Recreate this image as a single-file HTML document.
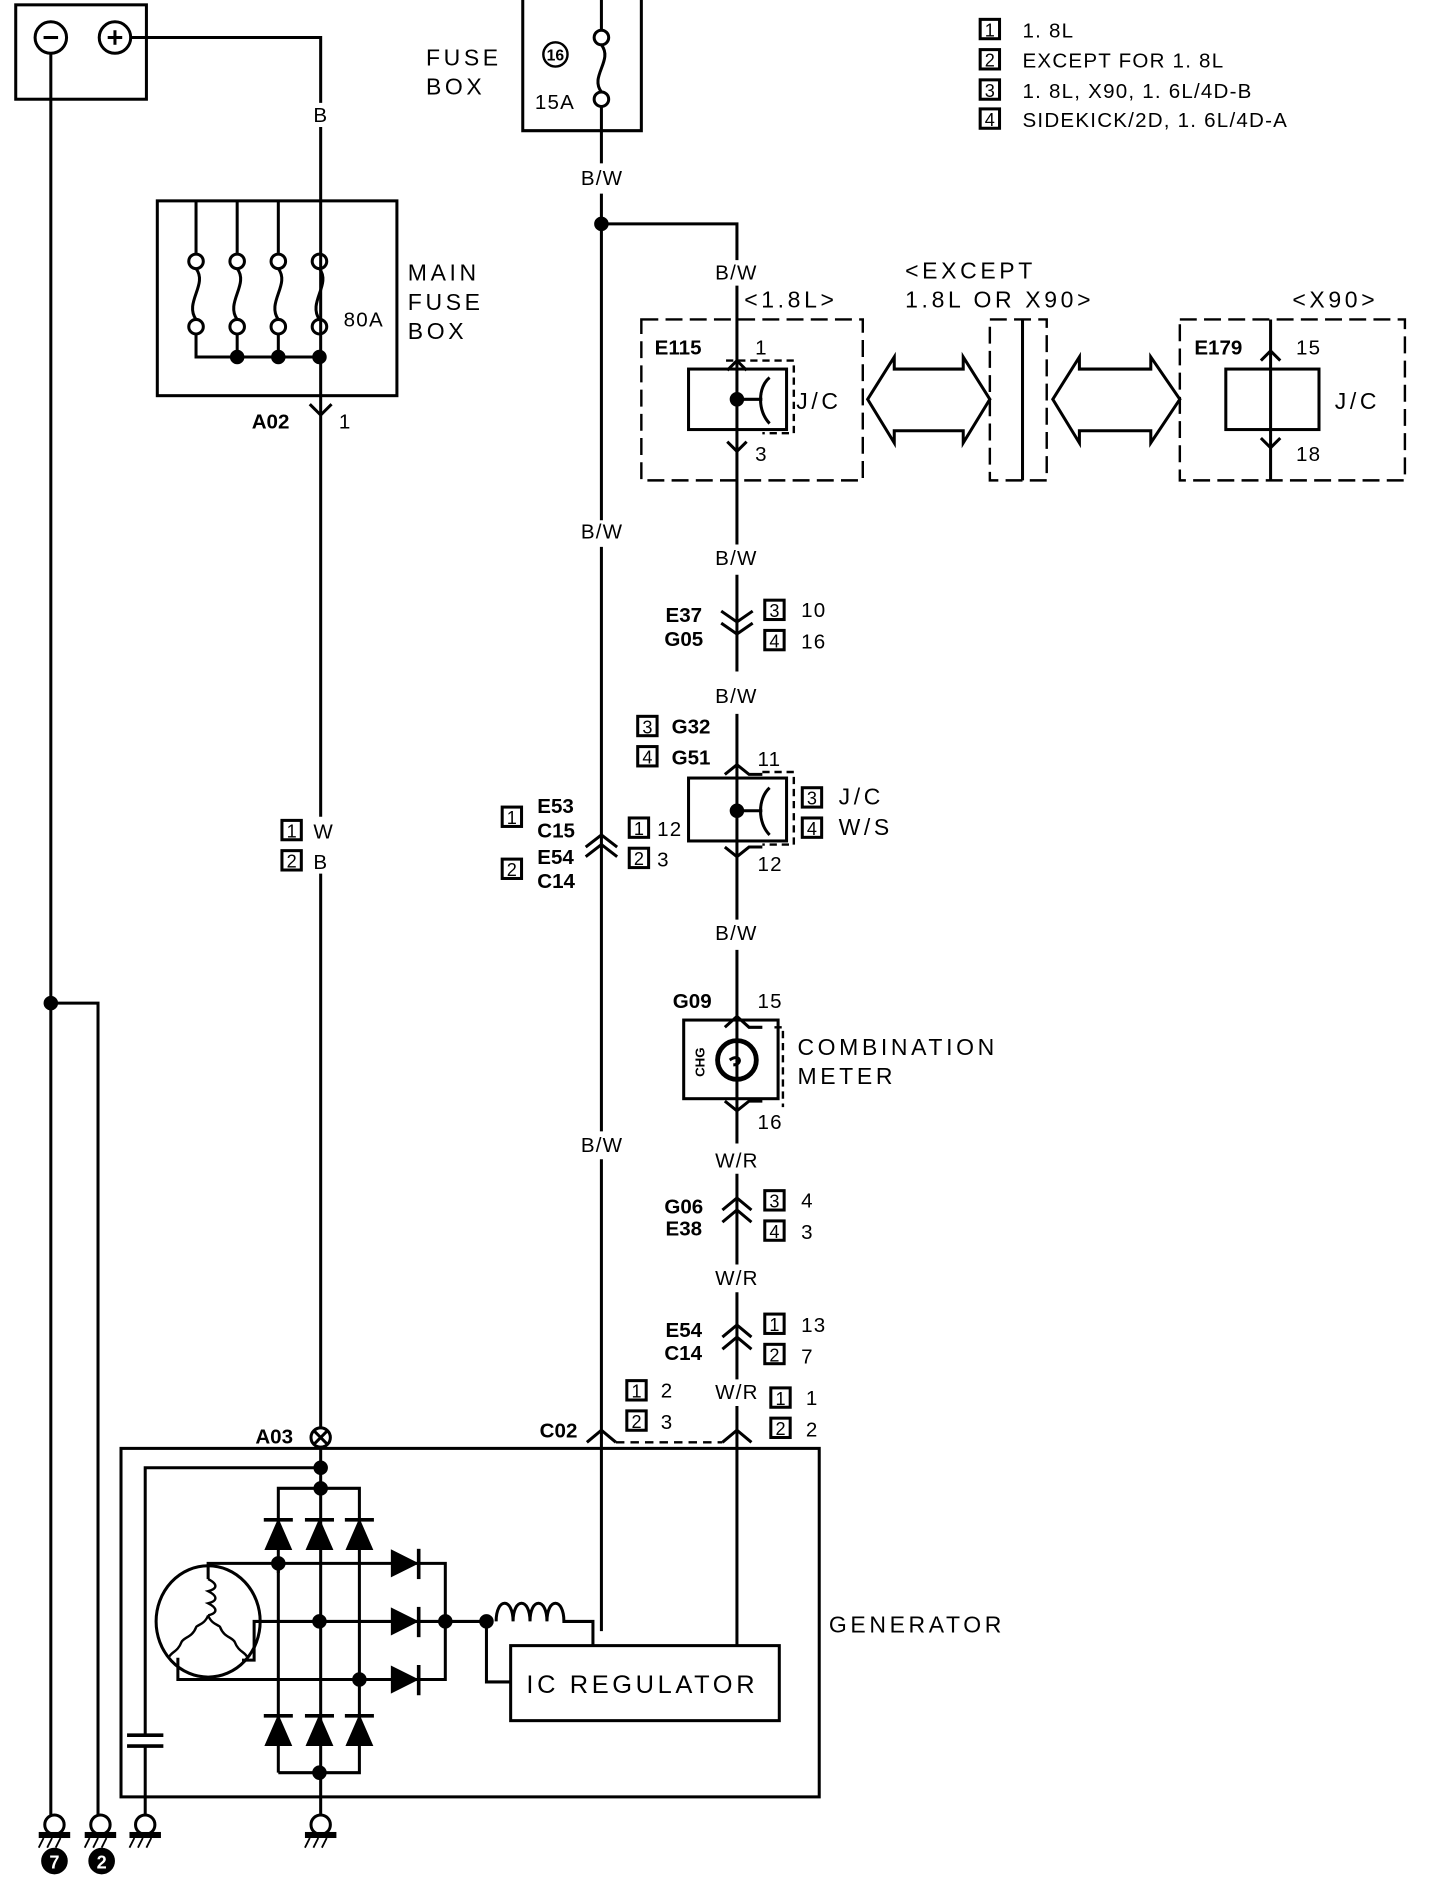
<!DOCTYPE html>
<html><head><meta charset="utf-8"><style>
html,body{margin:0;padding:0;background:#fff;width:1440px;height:1884px;overflow:hidden}
svg{display:block}
text{font-family:"Liberation Sans",sans-serif;fill:#000}
.t{font-size:19px;letter-spacing:3px}
.s{font-size:17px;letter-spacing:1px}
.b{font-size:17px;font-weight:bold}
</style></head><body>
<svg width="1440" height="1884" viewBox="0 0 1190 1557" preserveAspectRatio="none" xmlns="http://www.w3.org/2000/svg">
<g fill="none" stroke="#000" stroke-width="2.5">
<!-- battery -->
<rect x="13" y="4" width="108" height="78"/>
<circle cx="42" cy="31" r="13"/><line x1="36" y1="31" x2="48" y2="31"/>
<circle cx="95" cy="31" r="13"/><line x1="89" y1="31" x2="101" y2="31"/><line x1="95" y1="25" x2="95" y2="37"/>
<polyline points="108,31 265,31 265,85"/>
<line x1="265" y1="105" x2="265" y2="675"/>
<line x1="265" y1="722" x2="265" y2="1180"/>
<line x1="42" y1="44" x2="42" y2="1500"/>
<polyline points="42,829 81,829 81,1500"/>
<!-- main fuse box -->
<rect x="130" y="166" width="198" height="161"/>
<g>
<line x1="162" y1="166" x2="162" y2="209"/><line x1="196" y1="166" x2="196" y2="209"/><line x1="230" y1="166" x2="230" y2="209"/>
<circle cx="162" cy="216" r="6"/><circle cx="196" cy="216" r="6"/><circle cx="230" cy="216" r="6"/><circle cx="264" cy="216" r="6"/>
<circle cx="162" cy="270" r="6"/><circle cx="196" cy="270" r="6"/><circle cx="230" cy="270" r="6"/><circle cx="264" cy="270" r="6"/>
<path d="M162,222 C172,235 152,250 162,264"/><path d="M196,222 C206,235 186,250 196,264"/><path d="M230,222 C240,235 220,250 230,264"/><path d="M264,222 C274,235 254,250 264,264"/>
<polyline points="162,276 162,295 264,295"/><line x1="196" y1="276" x2="196" y2="295"/><line x1="230" y1="276" x2="230" y2="295"/>
</g>
<polyline points="256,334 265,343 274,334"/>
<!-- fuse box top -->
<polyline points="432,0 432,108 530,108 530,0"/>
<line x1="497" y1="0" x2="497" y2="25"/>
<circle cx="497" cy="31" r="6"/><circle cx="497" cy="82" r="6"/>
<path d="M497,37 C507,50 487,63 497,76"/>
<circle cx="459" cy="45" r="10" stroke-width="2"/>
<line x1="497" y1="88" x2="497" y2="135"/>
<line x1="497" y1="160" x2="497" y2="430"/>
<line x1="497" y1="452" x2="497" y2="935"/>
<line x1="497" y1="958" x2="497" y2="1348"/>
<polyline points="497,185 609,185 609,215"/>
<line x1="609" y1="236" x2="609" y2="450"/>
<!-- E115 -->
<rect x="530" y="264" width="183" height="133" stroke-dasharray="14,6" stroke-width="2"/>
<rect x="569" y="305" width="81" height="50"/>
<polyline points="600,298 656,298 656,358 630,358" stroke-dasharray="6,4" stroke-width="2"/>
<polyline points="601,306 609,298 617,306"/>
<polyline points="601,365 609,373 617,365"/>
<polyline points="609,330 630,330"/><path d="M636,312 C626,320 626,340 636,350"/>
<!-- double arrows -->
<polygon points="717,330 739,295 739,305 796,305 796,295 818,330 796,366 796,356 739,356 739,366"/>
<rect x="818" y="264" width="47" height="133" stroke-dasharray="14,6" stroke-width="2"/>
<line x1="845" y1="264" x2="845" y2="397"/>
<polygon points="870,330 892,295 892,305 951,305 951,295 975,330 951,366 951,356 892,356 892,366"/>
<!-- E179 -->
<rect x="975" y="264" width="186" height="133" stroke-dasharray="14,6" stroke-width="2"/>
<rect x="1013" y="305" width="77" height="50"/>
<line x1="1050" y1="264" x2="1050" y2="397"/>
<polyline points="1042,298 1050,290 1058,298"/>
<polyline points="1042,362 1050,370 1058,362"/>
<!-- E37 -->
<line x1="609" y1="475" x2="609" y2="555"/>
<polyline points="596,505 609,514 622,505"/><polyline points="596,515 609,524 622,515"/>
<line x1="609" y1="590" x2="609" y2="760"/>
<!-- G32 -->
<polyline points="599,640 609,632 619,640 630,640" /><polyline points="630,638 656,638 656,698 630,698" stroke-dasharray="6,4" stroke-width="2"/>
<rect x="569" y="643" width="81" height="52"/>
<line x1="609" y1="670" x2="630" y2="670"/><path d="M636,651 C626,660 626,680 636,690"/>
<polyline points="599,700 609,708 619,700 630,700"/>
<!-- left connector -->
<polyline points="484,700 497,690 510,700"/><polyline points="484,708 497,698 510,708"/>
<!-- meter -->
<line x1="609" y1="785" x2="609" y2="945"/>
<polyline points="599,849 609,840 619,849 630,849"/>
<polyline points="640,849 647,849 647,915" stroke-dasharray="6,4" stroke-width="2"/>
<rect x="565" y="843" width="78" height="65"/>
<circle cx="609" cy="876" r="16" stroke-width="4"/>
<path d="M603,876 C612,870 614,880 606,880"/>
<polyline points="599,910 609,918 619,910 630,910"/>
<line x1="609" y1="970" x2="609" y2="1045"/>
<polyline points="597,1000 609,990 621,1000"/><polyline points="597,1010 609,1000 621,1010"/>
<line x1="609" y1="1068" x2="609" y2="1140"/>
<polyline points="597,1105 609,1095 621,1105"/><polyline points="597,1115 609,1105 621,1115"/>
<line x1="609" y1="1162" x2="609" y2="1360"/>
<!-- C02 connectors -->
<polyline points="485,1192 497,1182 509,1192"/>
<polyline points="597,1192 609,1182 621,1192"/>
<path d="M509,1192 L520,1192 L585,1192 L597,1192" stroke-dasharray="7,5" stroke-width="2"/>
<!-- A03 -->
<circle cx="265" cy="1188" r="8"/><line x1="259" y1="1182" x2="271" y2="1194"/><line x1="271" y1="1182" x2="259" y2="1194"/>
<!-- generator -->
<rect x="100" y="1197" width="577" height="288"/>
<polyline points="120,1434 120,1213 265,1213"/>
<line x1="265" y1="1196" x2="265" y2="1500"/>
<line x1="105" y1="1434" x2="135" y2="1434" stroke-width="3"/><line x1="105" y1="1443" x2="135" y2="1443" stroke-width="3"/>
<line x1="120" y1="1443" x2="120" y2="1500"/>
<polyline points="230,1300 230,1230 297,1230 297,1400"/>
<line x1="230" y1="1290" x2="230" y2="1465"/>
<polyline points="230,1465 297,1465 297,1400"/>
<polyline points="172,1305 172,1292 368,1292 368,1388 147,1388 147,1370"/>
<polyline points="200,1372 210,1372 210,1340 368,1340"/>
<line x1="368" y1="1340" x2="402" y2="1340"/>
<ellipse cx="172" cy="1340" rx="43" ry="46"/>
<path d="M172,1305 c8,4 8,8 0,10 c8,4 8,8 0,10 c8,4 8,8 0,10" stroke-width="2"/>
<path d="M172,1335 c-3,8 -10,8 -10,10 c-3,8 -10,8 -12,12 c-3,8 -8,8 -10,12" stroke-width="2"/>
<path d="M172,1335 c3,8 10,8 10,10 c3,8 10,8 12,12 c3,8 8,8 10,12" stroke-width="2"/>
<path d="M410,1340 c0,-20 14,-20 14,0 c0,-20 14,-20 14,0 c0,-20 14,-20 14,0 c0,-20 14,-20 14,0 L490,1340 L490,1360" stroke-width="2.5"/>
<polyline points="402,1340 402,1390 422,1390"/>
<rect x="422" y="1360" width="222" height="62"/>
<!-- grounds -->
<circle cx="45" cy="1508" r="8"/><circle cx="83" cy="1508" r="8"/><circle cx="120" cy="1508" r="8"/><circle cx="265" cy="1508" r="8"/>
</g>
<g fill="#000" stroke="#000" stroke-width="2">
<circle cx="196" cy="295" r="5"/><circle cx="230" cy="295" r="5"/><circle cx="264" cy="295" r="5"/>
<circle cx="497" cy="185" r="5"/><circle cx="609" cy="330" r="5"/><circle cx="609" cy="670" r="5"/>
<circle cx="42" cy="829" r="5"/>
<circle cx="265" cy="1213" r="5"/><circle cx="265" cy="1230" r="5"/><circle cx="230" cy="1292" r="5"/><circle cx="264" cy="1340" r="5"/><circle cx="297" cy="1388" r="5"/><circle cx="264" cy="1465" r="5"/><circle cx="368" cy="1340" r="5"/><circle cx="402" cy="1340" r="5"/>
<polygon points="220,1280 240,1280 230,1257"/><line x1="218" y1="1256" x2="242" y2="1256" stroke-width="3"/>
<polygon points="254,1280 274,1280 264,1257"/><line x1="252" y1="1256" x2="276" y2="1256" stroke-width="3"/>
<polygon points="287,1280 307,1280 297,1257"/><line x1="285" y1="1256" x2="309" y2="1256" stroke-width="3"/>
<polygon points="220,1442 240,1442 230,1419"/><line x1="218" y1="1418" x2="242" y2="1418" stroke-width="3"/>
<polygon points="254,1442 274,1442 264,1419"/><line x1="252" y1="1418" x2="276" y2="1418" stroke-width="3"/>
<polygon points="287,1442 307,1442 297,1419"/><line x1="285" y1="1418" x2="309" y2="1418" stroke-width="3"/>
<polygon points="324,1282 344,1292 324,1302"/><line x1="346" y1="1280" x2="346" y2="1305" stroke-width="3"/>
<polygon points="324,1330 344,1340 324,1350"/><line x1="346" y1="1328" x2="346" y2="1353" stroke-width="3"/>
<polygon points="324,1378 344,1388 324,1398"/><line x1="346" y1="1376" x2="346" y2="1401" stroke-width="3"/>
<rect x="33" y="1515" width="24" height="3"/><rect x="71" y="1515" width="24" height="3"/><rect x="108" y="1515" width="24" height="3"/><rect x="253" y="1515" width="24" height="3"/>
<circle cx="45" cy="1538" r="10"/><circle cx="84" cy="1538" r="10"/>
</g>
<g stroke="#000" stroke-width="1.5">
<path d="M36,1519 l-4,8 M43,1519 l-4,8 M50,1519 l-4,8 M74,1519 l-4,8 M81,1519 l-4,8 M88,1519 l-4,8 M111,1519 l-4,8 M118,1519 l-4,8 M125,1519 l-4,8 M256,1519 l-4,8 M263,1519 l-4,8 M270,1519 l-4,8"/>
</g>
<text x="45" y="1544" text-anchor="middle" style="fill:#fff;font-size:15px;font-weight:bold">7</text>
<text x="84" y="1544" text-anchor="middle" style="fill:#fff;font-size:15px;font-weight:bold">2</text>
<text x="459" y="50" text-anchor="middle" style="font-size:13px;font-weight:bold">16</text>
<text class="t" x="352" y="54">FUSE</text><text class="t" x="352" y="78">BOX</text>
<text class="s" x="442" y="90">15A</text>
<text class="s" x="259" y="101">B</text>
<text class="t" x="337" y="232">MAIN</text><text class="t" x="337" y="256">FUSE</text><text class="t" x="337" y="280">BOX</text>
<text class="s" x="284" y="270">80A</text>
<text class="b" x="208" y="354">A02</text><text class="s" x="280" y="354">1</text>
<text class="s" x="480" y="153">B/W</text><text class="s" x="480" y="445">B/W</text><text class="s" x="480" y="952">B/W</text>
<text class="s" x="591" y="231">B/W</text>
<text class="t" x="615" y="254">&lt;1.8L&gt;</text>
<text class="t" x="748" y="230">&lt;EXCEPT</text><text class="t" x="748" y="254">1.8L OR X90&gt;</text>
<text class="t" x="1068" y="254">&lt;X90&gt;</text>
<text class="b" x="541" y="293">E115</text><text class="s" x="624" y="293">1</text><text class="s" x="624" y="381">3</text>
<text class="t" x="658" y="338">J/C</text>
<text class="b" x="987" y="293">E179</text><text class="s" x="1071" y="293">15</text><text class="s" x="1071" y="381">18</text>
<text class="t" x="1103" y="338">J/C</text>
<g fill="none" stroke="#000" stroke-width="2.5">
<rect x="810" y="16" width="16" height="16"/><rect x="810" y="41" width="16" height="16"/><rect x="810" y="66" width="16" height="16"/><rect x="810" y="90" width="16" height="16"/>
<rect x="233" y="678" width="16" height="16"/><rect x="233" y="703" width="16" height="16"/>
<rect x="632" y="496" width="16" height="16"/><rect x="632" y="521" width="16" height="16"/>
<rect x="527" y="592" width="16" height="16"/><rect x="527" y="617" width="16" height="16"/>
<rect x="663" y="651" width="16" height="16"/><rect x="663" y="676" width="16" height="16"/>
<rect x="415" y="667" width="16" height="16"/><rect x="415" y="710" width="16" height="16"/>
<rect x="520" y="676" width="16" height="16"/><rect x="520" y="701" width="16" height="16"/>
<rect x="632" y="984" width="16" height="16"/><rect x="632" y="1009" width="16" height="16"/>
<rect x="632" y="1086" width="16" height="16"/><rect x="632" y="1111" width="16" height="16"/>
<rect x="637" y="1147" width="16" height="16"/><rect x="637" y="1172" width="16" height="16"/>
<rect x="518" y="1141" width="16" height="16"/><rect x="518" y="1166" width="16" height="16"/>
</g>
<g style="font-size:15px" text-anchor="middle">
<text x="818" y="30">1</text><text x="818" y="55">2</text><text x="818" y="80">3</text><text x="818" y="104">4</text>
<text x="241" y="692">1</text><text x="241" y="717">2</text>
<text x="640" y="510">3</text><text x="640" y="535">4</text>
<text x="535" y="606">3</text><text x="535" y="631">4</text>
<text x="671" y="665">3</text><text x="671" y="690">4</text>
<text x="423" y="681">1</text><text x="423" y="724">2</text>
<text x="528" y="690">1</text><text x="528" y="715">2</text>
<text x="640" y="998">3</text><text x="640" y="1023">4</text>
<text x="640" y="1100">1</text><text x="640" y="1125">2</text>
<text x="645" y="1161">1</text><text x="645" y="1186">2</text>
<text x="526" y="1155">1</text><text x="526" y="1180">2</text>
</g>
<text class="s" x="845" y="31">1. 8L</text>
<text class="s" x="845" y="56">EXCEPT FOR 1. 8L</text>
<text class="s" x="845" y="81">1. 8L, X90, 1. 6L/4D-B</text>
<text class="s" x="845" y="105">SIDEKICK/2D, 1. 6L/4D-A</text>
<text class="s" x="259" y="693">W</text><text class="s" x="259" y="718">B</text>
<text class="s" x="591" y="467">B/W</text>
<text class="b" x="550" y="514">E37</text><text class="b" x="549" y="534">G05</text>
<text class="s" x="662" y="510">10</text><text class="s" x="662" y="536">16</text>
<text class="s" x="591" y="581">B/W</text>
<text class="b" x="555" y="606">G32</text><text class="b" x="555" y="632">G51</text>
<text class="s" x="626" y="633">11</text><text class="s" x="626" y="720">12</text>
<text class="t" x="693" y="665">J/C</text><text class="t" x="693" y="690">W/S</text>
<text class="b" x="444" y="672">E53</text><text class="b" x="444" y="692">C15</text>
<text class="b" x="444" y="714">E54</text><text class="b" x="444" y="734">C14</text>
<text class="s" x="543" y="691">12</text><text class="s" x="543" y="716">3</text>
<text class="s" x="591" y="777">B/W</text>
<text class="b" x="556" y="833">G09</text><text class="s" x="626" y="833">15</text><text class="s" x="626" y="933">16</text>
<text transform="translate(582,890) rotate(-90)" style="font-size:11px;font-weight:bold">CHG</text>
<text class="t" x="659" y="872">COMBINATION</text><text class="t" x="659" y="896">METER</text>
<text class="s" x="591" y="965">W/R</text>
<text class="b" x="549" y="1003">G06</text><text class="b" x="550" y="1021">E38</text>
<text class="s" x="662" y="998">4</text><text class="s" x="662" y="1024">3</text>
<text class="s" x="591" y="1062">W/R</text>
<text class="b" x="550" y="1105">E54</text><text class="b" x="549" y="1124">C14</text>
<text class="s" x="662" y="1101">13</text><text class="s" x="662" y="1127">7</text>
<text class="s" x="591" y="1156">W/R</text>
<text class="s" x="666" y="1161">1</text><text class="s" x="666" y="1187">2</text>
<text class="s" x="546" y="1155">2</text><text class="s" x="546" y="1181">3</text>
<text class="b" x="446" y="1188">C02</text>
<text class="b" x="211" y="1193">A03</text>
<text class="t" x="685" y="1349">GENERATOR</text>
<text class="t" x="435" y="1399" style="font-size:21px">IC REGULATOR</text>
</svg>
</body></html>
